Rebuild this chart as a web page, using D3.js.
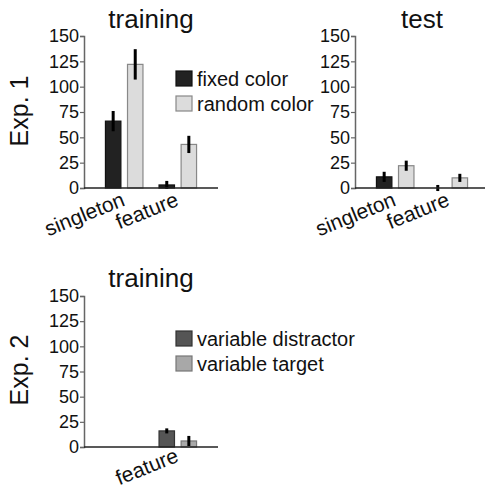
<!DOCTYPE html>
<html><head><meta charset="utf-8">
<script src="https://cdn.jsdelivr.net/npm/d3@7"></script>
<style>body{margin:0;background:#fff}svg{display:block}text{font-family:"Liberation Sans",Arial,sans-serif;fill:#111}</style>
</head><body>
<script>
const categories = ["singleton", "feature"];
const yTicks = [0, 25, 50, 75, 100, 125, 150];

const exp1Series = ["fixed color", "random color"];
const exp1Colors = ["#222222", "#dcdcdc"];
const exp1Strokes = ["#111111", "#888888"];
// training, Exp. 1
const trainFixed = [66, 3];
const trainFixedErr = [10, 4];
const trainRandom = [122, 43];
const trainRandomErr = [15, 8.5];
// test, Exp. 1
const testFixed = [11, 0];
const testFixedErr = [5, 3];
const testRandom = [22, 10];
const testRandomErr = [5, 4];

const exp2Series = ["variable distractor", "variable target"];
const exp2Colors = ["#555555", "#a8a8a8"];
const exp2Strokes = ["#333333", "#777777"];
// training, Exp. 2 (singleton not measured)
const exp2Distractor = [null, 16];
const exp2DistractorErr = [null, 2.5];
const exp2Target = [null, 6];
const exp2TargetErr = [null, 5];

const W = 485, H = 491;
const svg = d3.select("body").append("svg").attr("width", W).attr("height", H);

function panel(opt) {
  const g = svg.append("g");
  const y = d3.scaleLinear().domain([0, 150]).range([opt.y0, opt.y1]);
  const x0 = d3.scaleBand().domain(categories).range([opt.x0, opt.x0 + 134])
    .paddingInner(0.3).paddingOuter(0.4);
  const x1 = d3.scaleBand().domain(opt.series).range([0, x0.bandwidth()]).paddingInner(0.3);

  // y axis
  const ya = g.append("g").attr("transform", `translate(${opt.x0},0)`)
    .call(d3.axisLeft(y).tickValues(yTicks).tickSize(4).tickPadding(1));
  ya.select(".domain").attr("stroke", "#666").attr("stroke-width", 1.5);
  ya.selectAll(".tick line").attr("stroke", "#666").attr("stroke-width", 1.2);
  ya.selectAll(".tick text").style("font-size", "18px").style("font-family", '"Liberation Sans",Arial,sans-serif').attr("fill", "#111");

  // bars
  opt.values.forEach((vals, si) => {
    categories.forEach((c, ci) => {
      const v = vals[ci];
      if (v === null) return;
      const bx = x0(c) + x1(opt.series[si]);
      const bw = x1.bandwidth();
      if (v > 0) {
        g.append("rect").attr("x", bx).attr("y", y(v)).attr("width", bw)
          .attr("height", y(0) - y(v)).attr("fill", opt.colors[si])
          .attr("stroke", opt.strokes[si]).attr("stroke-width", 1.2);
      }
      const e = opt.errs[si][ci];
      g.append("line").attr("x1", bx + bw / 2).attr("x2", bx + bw / 2)
        .attr("y1", y(v - e)).attr("y2", y(v + e))
        .attr("stroke", "#000").attr("stroke-width", 3);
    });
  });

  // x axis line
  g.append("line").attr("x1", opt.x0).attr("x2", opt.x0 + 134)
    .attr("y1", y(0)).attr("y2", y(0)).attr("stroke", "#222").attr("stroke-width", 1.5);

  // category labels
  categories.forEach((c, ci) => {
    const has = opt.values.some(v => v[ci] !== null);
    if (!has) return;
    const cx = x0(c) + x0.bandwidth() / 2 + 2;
    g.append("text").attr("transform", `translate(${cx},${y(0) + opt.labelDy}) rotate(-22)`)
      .attr("text-anchor", "end").style("font-size", "21px").text(c);
  });

  // title
  g.append("text").attr("x", opt.x0 + 67).attr("y", opt.titleY)
    .attr("text-anchor", "middle").style("font-size", "26px").text(opt.title);

  // legend
  if (opt.legend) {
    opt.series.forEach((s, si) => {
      const ly = opt.legendY + si * 25;
      g.append("rect").attr("x", 176).attr("y", ly).attr("width", 16).attr("height", 15)
        .attr("fill", opt.colors[si]).attr("stroke", opt.strokes[si]).attr("stroke-width", 1.2);
      g.append("text").attr("x", 197).attr("y", ly + 8).attr("dy", "0.35em")
        .style("font-size", "20px").text(s);
    });
  }
}

panel({x0: 84, y0: 188, y1: 36, title: "training", titleY: 28, labelDy: 17,
  series: exp1Series, colors: exp1Colors, strokes: exp1Strokes,
  values: [trainFixed, trainRandom], errs: [trainFixedErr, trainRandomErr],
  legend: true, legendY: 71});
panel({x0: 355, y0: 188, y1: 36, title: "test", titleY: 28, labelDy: 17,
  series: exp1Series, colors: exp1Colors, strokes: exp1Strokes,
  values: [testFixed, testRandom], errs: [testFixedErr, testRandomErr],
  legend: false});
panel({x0: 84, y0: 447, y1: 296, title: "training", titleY: 287, labelDy: 14,
  series: exp2Series, colors: exp2Colors, strokes: exp2Strokes,
  values: [exp2Distractor, exp2Target], errs: [exp2DistractorErr, exp2TargetErr],
  legend: true, legendY: 331});

// row labels
[["Exp. 1", 111], ["Exp. 2", 370]].forEach(([t, cy]) => {
  svg.append("text").attr("transform", `translate(28,${cy}) rotate(-90)`)
    .attr("text-anchor", "middle").style("font-size", "25px").text(t);
});
</script>
</body></html>
